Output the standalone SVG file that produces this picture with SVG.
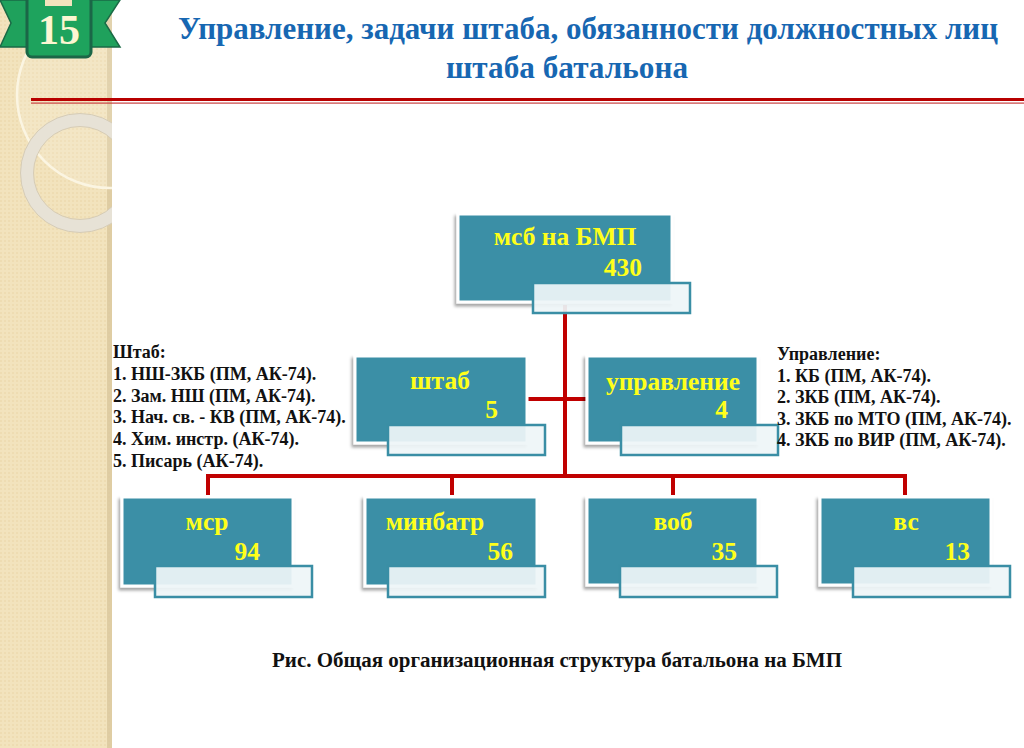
<svg xmlns="http://www.w3.org/2000/svg" width="1024" height="748" viewBox="0 0 1024 748">
<defs>
<style>
.box{fill:#3a8fa6;stroke:#ffffff;stroke-width:3;filter:url(#sh)}
.lbl{fill:#eef5f8;fill-opacity:0.93;stroke:#3a8ea5;stroke-width:2.5}
.nt{font-family:"Liberation Serif","Times New Roman",serif;font-weight:bold;font-size:25.5px;fill:#ffff1a}
.side{font-family:"Liberation Serif","Times New Roman",serif;font-weight:bold;font-size:18px;fill:#111111}
.title{font-family:"Liberation Serif","Times New Roman",serif;font-weight:bold;font-size:31px;fill:#1767b2}
.con{stroke:#c00000;stroke-width:4;fill:none}
</style>
<filter id="sh" x="-10%" y="-10%" width="120%" height="130%">
<feDropShadow dx="-2" dy="3" stdDeviation="1.8" flood-color="#000" flood-opacity="0.35"/>
</filter>
<pattern id="pat" width="4" height="4" patternUnits="userSpaceOnUse">
<rect width="4" height="4" fill="#f2e3bd"/>
<rect width="2" height="2" fill="#eedcb2"/>
</pattern>
<clipPath id="band"><rect x="0" y="0" width="112" height="748"/></clipPath>
</defs>
<rect width="1024" height="748" fill="#ffffff"/>
<g id="band-bg">
<rect x="0" y="0" width="112" height="748" fill="url(#pat)"/>
<rect x="107" y="0" width="5" height="748" fill="#d9c79c" opacity="0.8"/>
<g clip-path="url(#band)">
<circle cx="110" cy="95" r="93" fill="#ffffff" fill-opacity="0.12" stroke="#fbf5e2" stroke-width="2.5"/>
<circle cx="80" cy="173" r="53" fill="none" stroke="#e7e2d6" stroke-width="13"/>
<circle cx="80" cy="173" r="59.5" fill="none" stroke="#d6ccb6" stroke-width="1"/>
<circle cx="80" cy="173" r="46.5" fill="none" stroke="#d6ccb6" stroke-width="1"/>
</g>
</g>
<g id="badge">
<polygon points="0,0 120,0 105,23 120,47 0,47 11,23" fill="#1fa15c" stroke="#1a6a46" stroke-width="1.5"/>
<rect x="27" y="-4" width="64" height="61" rx="5" fill="#1ea35d" stroke="#1b6647" stroke-width="3"/>
<rect x="45" y="0" width="27" height="6" fill="#f2e3bd"/>
<text x="59" y="44" text-anchor="middle" font-family="Liberation Serif, serif" font-weight="bold" font-size="42" fill="#fcf6d2">15</text>
</g>
<g id="title">
<text class="title" x="178" y="38.5" textLength="820" lengthAdjust="spacingAndGlyphs">Управление, задачи штаба, обязанности должностных лиц</text>
<text class="title" x="446" y="77.5" textLength="242" lengthAdjust="spacingAndGlyphs">штаба батальона</text>
<rect x="31" y="98" width="993" height="3" fill="#b80000"/>
<rect x="31" y="102.5" width="993" height="1.2" fill="#c84040"/>
</g>
<g id="connectors">
<line class="con" x1="565" y1="305" x2="565" y2="476"/>
<line class="con" x1="527" y1="399" x2="587" y2="399"/>
<polyline class="con" points="208,495 208,476 905,476 905,495"/>
<line class="con" x1="452" y1="476" x2="452" y2="495"/>
<line class="con" x1="673" y1="476" x2="673" y2="495"/>
</g>
<g id="node-msb">
<rect class="box" x="458" y="214" width="214" height="88"/>
<rect class="lbl" x="533" y="283" width="157" height="30"/>
<text class="nt" x="565" y="245" text-anchor="middle">мсб на БМП</text>
<text class="nt" x="642" y="276" text-anchor="end">430</text>
</g>
<g id="node-shtab">
<rect class="box" x="355" y="356" width="172" height="87"/>
<rect class="lbl" x="388" y="425" width="157" height="30"/>
<text class="nt" x="440" y="389" text-anchor="middle">штаб</text>
<text class="nt" x="498" y="418" text-anchor="end">5</text>
</g>
<g id="node-upr">
<rect class="box" x="587" y="356" width="171" height="87"/>
<rect class="lbl" x="621" y="425" width="157" height="30"/>
<text class="nt" x="673" y="390" text-anchor="middle">управление</text>
<text class="nt" x="728" y="418" text-anchor="end">4</text>
</g>
<g id="node-msr">
<rect class="box" x="122" y="497" width="171" height="89"/>
<rect class="lbl" x="155" y="566" width="157" height="31"/>
<text class="nt" x="207" y="530" text-anchor="middle">мср</text>
<text class="nt" x="260" y="560" text-anchor="end">94</text>
</g>
<g id="node-minbatr">
<rect class="box" x="365" y="497" width="172" height="89"/>
<rect class="lbl" x="388" y="566" width="157" height="31"/>
<text class="nt" x="435" y="530" text-anchor="middle">минбатр</text>
<text class="nt" x="513" y="560" text-anchor="end">56</text>
</g>
<g id="node-vob">
<rect class="box" x="587" y="497" width="171" height="88"/>
<rect class="lbl" x="620" y="566" width="157" height="31"/>
<text class="nt" x="673" y="530" text-anchor="middle">воб</text>
<text class="nt" x="737" y="560" text-anchor="end">35</text>
</g>
<g id="node-vs">
<rect class="box" x="820" y="497" width="171" height="88"/>
<rect class="lbl" x="853" y="566" width="157" height="31"/>
<text class="nt" x="906" y="530" text-anchor="middle">вс</text>
<text class="nt" x="970" y="560" text-anchor="end">13</text>
</g>
<g id="text-shtab">
<text class="side" x="113" y="358">Штаб:</text>
<text class="side" x="113" y="380">1. НШ-ЗКБ (ПМ, АК-74).</text>
<text class="side" x="113" y="401.5">2. Зам. НШ (ПМ, АК-74).</text>
<text class="side" x="113" y="423">3. Нач. св. - КВ (ПМ, АК-74).</text>
<text class="side" x="113" y="445">4. Хим. инстр. (АК-74).</text>
<text class="side" x="113" y="466.5">5. Писарь (АК-74).</text>
</g>
<g id="text-upr">
<text class="side" x="777" y="360">Управление:</text>
<text class="side" x="777" y="381.5">1. КБ (ПМ, АК-74).</text>
<text class="side" x="777" y="403">2. ЗКБ (ПМ, АК-74).</text>
<text class="side" x="777" y="424.5">3. ЗКБ по МТО (ПМ, АК-74).</text>
<text class="side" x="777" y="446">4. ЗКБ по ВИР (ПМ, АК-74).</text>
</g>
<g id="caption">
<text x="272" y="667" textLength="570" lengthAdjust="spacingAndGlyphs" font-family="Liberation Serif, Times New Roman, serif" font-weight="bold" font-size="20" fill="#111111">Рис. Общая организационная структура батальона на БМП</text>
</g>
</svg>
